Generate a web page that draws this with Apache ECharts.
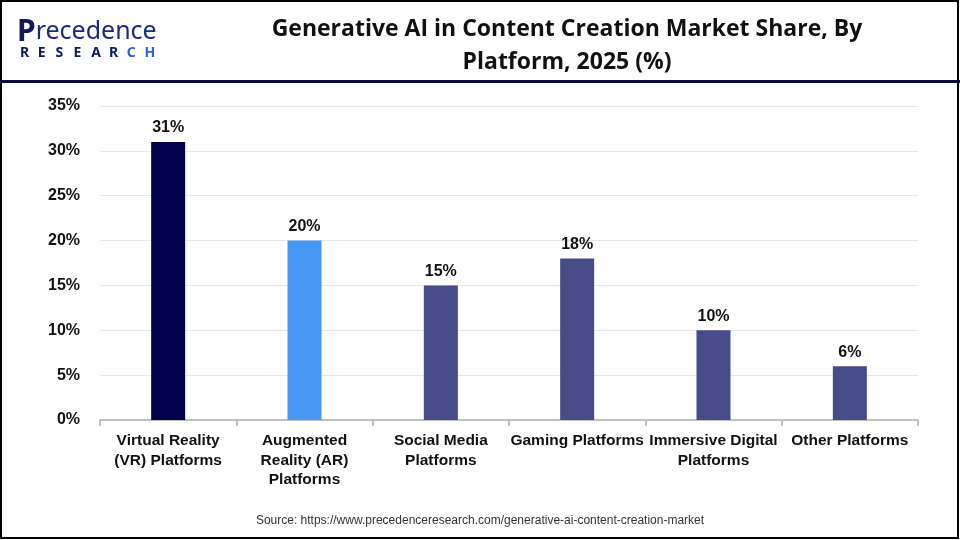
<!DOCTYPE html>
<html><head><meta charset="utf-8">
<script src="https://cdn.jsdelivr.net/npm/echarts@6/dist/echarts.min.js"></script>
<style>html,body{margin:0;padding:0;background:#fff}#c{width:960px;height:540px}</style>
</head><body><div id="c"></div>
<script>
const categories = ["Virtual Reality\n(VR) Platforms", "Augmented\nReality (AR)\nPlatforms", "Social Media\nPlatforms", "Gaming Platforms", "Immersive Digital\nPlatforms", "Other Platforms"];
const values = [31, 20, 15, 18, 10, 6];
const barColors = ["#03024f", "#4597f2", "#474b88", "#474b88", "#474b88", "#474b88"];
const yTicks = [0, 5, 10, 15, 20, 25, 30, 35];

const logoLetters = 'RESEARCH'.split('').map((ch, i) => ({
  type: 'text', x: 20 + i * 17.8, y: 46,
  style: {text: ch, fontFamily: 'Noto Sans', fontWeight: 'bold', fontSize: 14, fill: i >= 6 ? '#2d5fd0' : '#10195a'}
}));

const chart = echarts.init(document.getElementById('c'));
chart.setOption({
  backgroundColor: '#fff',
  animation: false,
  title: {
    text: 'Generative AI in Content Creation Market Share, By\nPlatform, 2025 (%)',
    left: 562, top: 8, textAlign: 'center',
    textStyle: {fontFamily: 'Open Sans', fontWeight: 'bold', fontSize: 23, lineHeight: 33, color: '#111'}
  },
  grid: {left: 100, right: 42, top: 106, bottom: 120},
  xAxis: {
    type: 'category', data: categories,
    axisLine: {lineStyle: {color: '#bfbfbf', width: 2}},
    axisTick: {show: true, length: 6, lineStyle: {color: '#bfbfbf', width: 2}},
    axisLabel: {interval: 0, margin: 11, fontFamily: 'Liberation Sans', fontWeight: 'bold', fontSize: 15.5, lineHeight: 19.5, color: '#111'}
  },
  yAxis: {
    type: 'value', min: yTicks[0], max: yTicks[yTicks.length - 1], interval: 5,
    axisLine: {show: false}, axisTick: {show: false},
    splitLine: {lineStyle: {color: '#e6e6e6', width: 1}},
    axisLabel: {formatter: '{value}%', margin: 20, fontFamily: 'Liberation Sans', fontWeight: 'bold', fontSize: 16, color: '#111'}
  },
  series: [{
    type: 'bar', barWidth: 34,
    data: values.map((v, i) => ({value: v, itemStyle: {color: barColors[i]}})),
    label: {show: true, position: 'top', distance: 6, formatter: '{c}%', fontFamily: 'Liberation Sans', fontWeight: 'bold', fontSize: 16, color: '#111'}
  }],
  graphic: [
    {type: 'rect', shape: {x: 1, y: 1, width: 957, height: 537}, style: {fill: 'none', stroke: '#000', lineWidth: 2}, z: 100},
    {type: 'rect', shape: {x: 0, y: 80, width: 960, height: 3}, style: {fill: '#0a0a3c'}, z: 100},
    {type: 'text', x: 17, y: 17, style: {text: '{a|P}{b|recedence}', rich: {
      a: {fontFamily: 'Noto Sans', fontWeight: 'bold', fontSize: 30, fill: '#10195a'},
      b: {fontFamily: 'Noto Sans', fontWeight: 'normal', fontSize: 25, fill: '#1a2a80'}}}},
    ...logoLetters,
    {type: 'text', x: 480, y: 521, style: {text: 'Source: https://www.precedenceresearch.com/generative-ai-content-creation-market', align: 'center', verticalAlign: 'middle', fontFamily: 'Liberation Sans', fontSize: 12, fill: '#333'}}
  ]
});
</script></body></html>
